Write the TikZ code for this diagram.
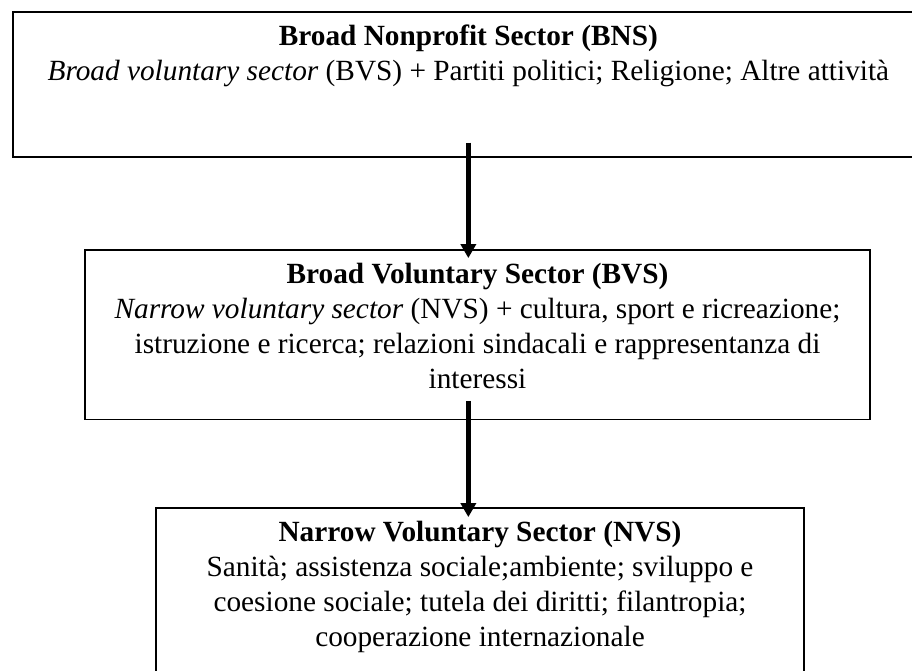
\documentclass[tikz,border=0pt]{standalone}
\usepackage{fontspec}
\setmainfont{Liberation Serif}
\usetikzlibrary{arrows.meta,calc}
\begin{document}
\begin{tikzpicture}[x=1pt,y=-1pt,
  sectorbox/.style={draw=black, line width=1.8pt, inner sep=0pt},
  boxtext/.style={anchor=north, inner sep=0pt, align=center,
    font=\fontsize{29.3}{35}\selectfont},
  flow/.style={line width=5.5pt, -{Triangle[width=15pt,length=14pt]}}]
\useasboundingbox (0,0) rectangle (912,671);
\fill[white] (0,0) rectangle (912,671);
\begin{scope}
\clip (0,0) rectangle (912,671);
% the three sector boxes
\node[sectorbox, minimum width=911.3pt, minimum height=144.4pt] (bns) at (468.35,84.5) {};
\node[sectorbox, minimum width=785pt, minimum height=169.5pt] (bvs) at (477.5,334.75) {};
\node[sectorbox, minimum width=648pt, minimum height=192pt] (nvs) at (480,604) {};
% their texts
\node[boxtext] (bnstext) at ($(bns.north)+(0,9.5)$)
  {\strut\textbf{Broad Nonprofit Sector (BNS)}\\
   \textit{Broad voluntary sector} (BVS) + Partiti politici; Religione; Altre attività};
\node[boxtext] (bvstext) at ($(bvs.north)+(0,9.5)$)
  {\strut\textbf{Broad Voluntary Sector (BVS)}\\
   \textit{Narrow voluntary sector} (NVS) + cultura, sport e ricreazione;\\
   istruzione e ricerca; relazioni sindacali e rappresentanza di\\
   interessi};
\node[boxtext] (nvstext) at ($(nvs.north)+(0,9.5)$)
  {\strut\textbf{Narrow Voluntary Sector (NVS)}\\
   Sanità; assistenza sociale;ambiente; sviluppo e\\
   coesione sociale; tutela dei diritti; filantropia;\\
   cooperazione internazionale};
% connectors
\draw[flow] ($(bns.south)+(0,-15)$) -- ($(bns.south |- bvs.north)+(0,9)$);
\draw[flow] ($(bns.south |- bvs.south)+(0,-19.5)$) -- ($(bns.south |- nvs.north)+(0,10)$);
\end{scope}
\end{tikzpicture}
\end{document}
